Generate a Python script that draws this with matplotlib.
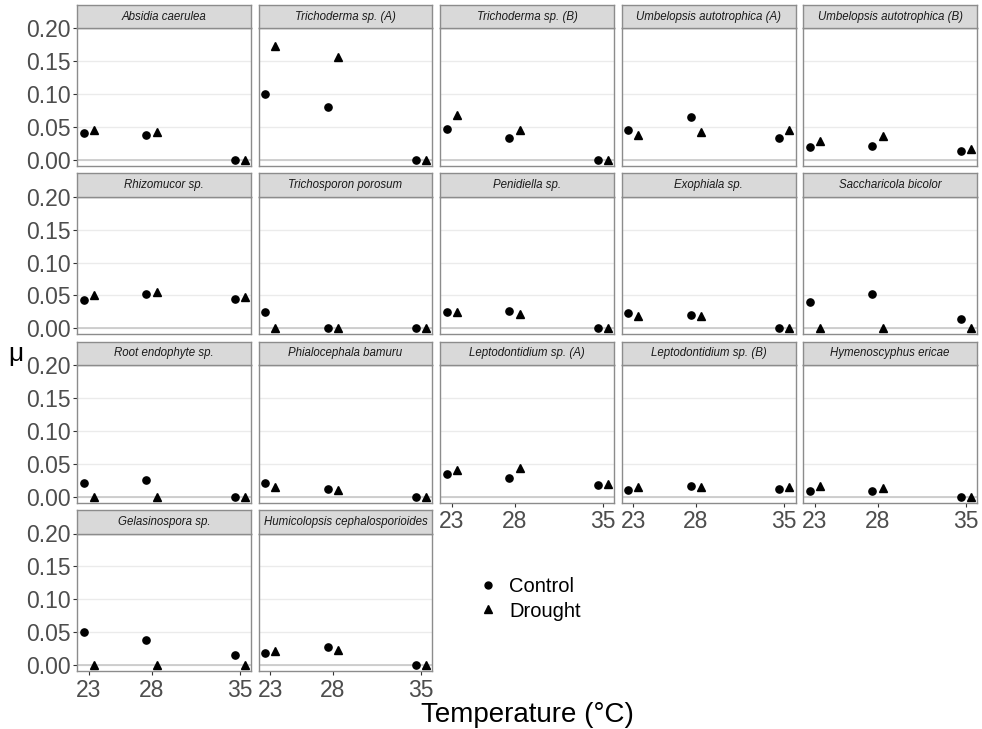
import matplotlib.pyplot as plt
from matplotlib.lines import Line2D

plt.rcParams["font.family"] = ["Liberation Sans", "DejaVu Sans"]

species = [
    "Absidia caerulea", "Trichoderma sp. (A)", "Trichoderma sp. (B)",
    "Umbelopsis autotrophica (A)", "Umbelopsis autotrophica (B)",
    "Rhizomucor sp.", "Trichosporon porosum", "Penidiella sp.",
    "Exophiala sp.", "Saccharicola bicolor",
    "Root endophyte sp.", "Phialocephala bamuru", "Leptodontidium sp. (A)",
    "Leptodontidium sp. (B)", "Hymenoscyphus ericae",
    "Gelasinospora sp.", "Humicolopsis cephalosporioides",
]
temps = [23, 28, 35]

# growth rate at 23, 28, 35 °C
control = [
    [0.041, 0.038, 0.000], [0.100, 0.080, 0.000], [0.047, 0.034, 0.000],
    [0.045, 0.065, 0.034], [0.019, 0.022, 0.014],
    [0.043, 0.053, 0.044], [0.025, 0.000, 0.000], [0.025, 0.027, 0.000],
    [0.023, 0.020, 0.000], [0.040, 0.052, 0.015],
    [0.021, 0.025, 0.000], [0.021, 0.012, 0.000], [0.034, 0.028, 0.018],
    [0.011, 0.017, 0.012], [0.009, 0.009, 0.000],
    [0.050, 0.039, 0.016], [0.019, 0.028, 0.000],
]
drought = [
    [0.046, 0.043, 0.000], [0.173, 0.157, 0.000], [0.069, 0.046, 0.000],
    [0.038, 0.042, 0.045], [0.029, 0.036, 0.016],
    [0.051, 0.055, 0.047], [0.000, 0.000, 0.000], [0.025, 0.022, 0.000],
    [0.019, 0.019, 0.000], [0.000, 0.000, 0.000],
    [0.000, 0.000, 0.000], [0.015, 0.011, 0.000], [0.041, 0.044, 0.019],
    [0.015, 0.015, 0.015], [0.017, 0.014, 0.000],
    [0.000, 0.000, 0.000], [0.021, 0.023, 0.000],
]
yticks = [0.00, 0.05, 0.10, 0.15, 0.20]

W, H = 982, 729
fig = plt.figure(figsize=(W / 100, H / 100), dpi=100)

ncol = 5
left0, pw, pitch_x = 77, 174, 181.5
top0, strip_h, ph, pitch_y = 5, 23.3, 137.7, 168.4
border = "#8C8C8C"
dodge = 0.4

for i, name in enumerate(species):
    r, c = divmod(i, ncol)
    x0 = left0 + c * pitch_x
    ytop = top0 + r * pitch_y + strip_h
    ax = fig.add_axes([x0 / W, 1 - (ytop + ph) / H, pw / W, ph / H])
    sax = fig.add_axes([x0 / W, 1 - ytop / H, pw / W, strip_h / H])

    ax.set_xlim(22.08, 35.9)
    ax.set_ylim(-0.0091, 0.2)
    ax.set_yticks(yticks)
    ax.set_xticks(temps)
    ax.grid(axis="y", color="#EBEBEB", lw=1.0)
    ax.set_axisbelow(True)
    ax.axhline(0, color="#C8C8C8", lw=1.2, zorder=1)

    ax.plot([t - dodge for t in temps], control[i], "o", color="black",
            ms=5.2, zorder=3)
    ax.plot([t + dodge for t in temps], drought[i], "^", color="black",
            ms=6.2, zorder=3)

    for s in ax.spines.values():
        s.set_color(border)
        s.set_linewidth(1.0)
    ax.tick_params(colors="#333333", labelcolor="#4D4D4D", labelsize=16.5,
                   length=3, width=0.8)
    if c != 0:
        ax.tick_params(axis="y", labelleft=False, length=0)
    else:
        ax.tick_params(axis="y", pad=1.5)
        ax.set_yticklabels([f"{v:.2f}" for v in yticks])
    below = i + ncol >= len(species)
    if not below:
        ax.tick_params(axis="x", labelbottom=False, length=0)
    else:
        ax.tick_params(axis="x", pad=2.5)

    sax.set_facecolor("#D9D9D9")
    sax.set_xticks([])
    sax.set_yticks([])
    for s in sax.spines.values():
        s.set_color(border)
        s.set_linewidth(1.0)
    sax.text(0.5, 0.5, name, transform=sax.transAxes, ha="center",
             va="center", fontsize=8.3, style="italic", color="#1A1A1A")

fig.text(16 / W, 1 - 354 / H, "μ", fontsize=19, ha="center", va="center")
fig.text(527 / W, 1 - 715 / H, "Temperature (°C)", fontsize=20,
         ha="center", va="center")

handles = [
    Line2D([], [], ls="", marker="o", color="black", ms=5),
    Line2D([], [], ls="", marker="^", color="black", ms=6),
]
fig.legend(handles, ["Control", "Drought"], loc="center left",
           bbox_to_anchor=(470 / W, 1 - 599 / H), frameon=False,
           fontsize=14.5, handletextpad=0.55, labelspacing=0.25,
           handlelength=1.0, borderaxespad=0)

fig.savefig("out.png", dpi=100)
